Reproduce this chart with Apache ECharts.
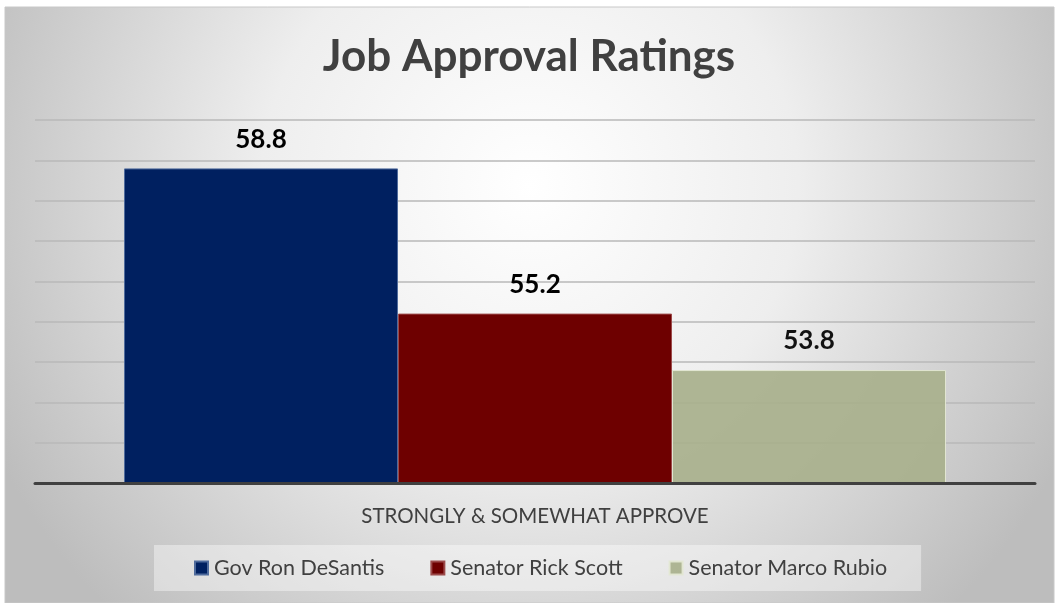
<!DOCTYPE html>
<html>
<head>
<meta charset="utf-8">
<script src="https://cdn.jsdelivr.net/npm/echarts@6/dist/echarts.min.js"></script>
<style>
  html, body { margin: 0; padding: 0; background: #ffffff; }
  #chart { width: 1058px; height: 603px; }
</style>
</head>
<body>
<div id="chart"></div>
<script>
// Job approval ratings, strongly & somewhat approve (%)
const categories = ['STRONGLY & SOMEWHAT APPROVE'];
const seriesNames = ['Gov Ron DeSantis', 'Senator Rick Scott', 'Senator Marco Rubio'];
const desantis = [58.8];
const scott = [55.2];
const rubio = [53.8];
const seriesValues = [desantis, scott, rubio];

const fillColors = ['#002060', '#6e0000', '#a8b08c'];
const edgeColors = ['#4f6b9c', '#9c4a4a', '#e4e8d4'];
const fillOpacity = [1, 1, 0.92];

const FONT = 'Lato, "Noto Sans", sans-serif';

const chart = echarts.init(document.getElementById('chart'), null, { renderer: 'canvas' });

const series = seriesNames.map((name, i) => ({
  name: name,
  type: 'bar',
  data: seriesValues[i],
  barGap: '0%',
  barCategoryGap: '17.8%',
  itemStyle: {
    color: fillColors[i],
    opacity: fillOpacity[i],
    borderColor: edgeColors[i],
    borderWidth: 1
  },
  label: {
    show: true,
    position: 'top',
    distance: 16,
    color: '#000000',
    fontFamily: FONT,
    fontWeight: 'bold',
    fontSize: 26,
    formatter: p => p.value.toFixed(1)
  },
  emphasis: { disabled: true },
  z: 2
}));

chart.setOption({
  backgroundColor: '#ffffff',
  animation: false,
  graphic: [{
    type: 'rect',
    z: -10,
    silent: true,
    shape: { x: 5, y: 7, width: 1049, height: 596 },
    style: {
      fill: {
        type: 'radial', x: 0.5, y: 0.3, r: 1.0,
        colorStops: [
          { offset: 0, color: '#ffffff' },
          { offset: 0.45, color: '#eeeeee' },
          { offset: 1, color: '#bdbdbd' }
        ]
      },
      stroke: '#c8c8c8',
      lineWidth: 1
    }
  }],
  title: {
    text: 'Job Approval Ratings',
    left: 'center',
    top: 30,
    textStyle: {
      fontFamily: FONT,
      fontWeight: 'bold',
      fontSize: 44,
      color: '#404040'
    }
  },
  legend: {
    data: seriesNames,
    top: 545,
    left: 154,
    padding: [12, 34, 12, 40],
    itemGap: 46,
    itemWidth: 13,
    itemHeight: 13,
    backgroundColor: 'rgba(255,255,255,0.4)',
    textStyle: { fontFamily: FONT, fontSize: 21.5, color: '#404040', padding: [0, 0, 0, 1] },
    icon: 'rect',
    selectedMode: false
  },
  grid: { left: 35, right: 23, top: 120, bottom: 120, containLabel: false },
  xAxis: {
    type: 'category',
    data: categories,
    axisLine: { show: true, lineStyle: { color: '#404040', width: 3 } },
    axisTick: { show: false },
    axisLabel: {
      margin: 23,
      fontFamily: FONT,
      fontSize: 20.5,
      color: '#404040'
    },
    z: 5
  },
  yAxis: {
    type: 'value',
    min: 51,
    max: 60,
    interval: 1,
    axisLine: { show: false },
    axisTick: { show: false },
    axisLabel: { show: false },
    splitLine: { show: true, lineStyle: { color: '#b8b8b8', width: 1.5 } }
  },
  series: series
});
</script>
</body>
</html>
